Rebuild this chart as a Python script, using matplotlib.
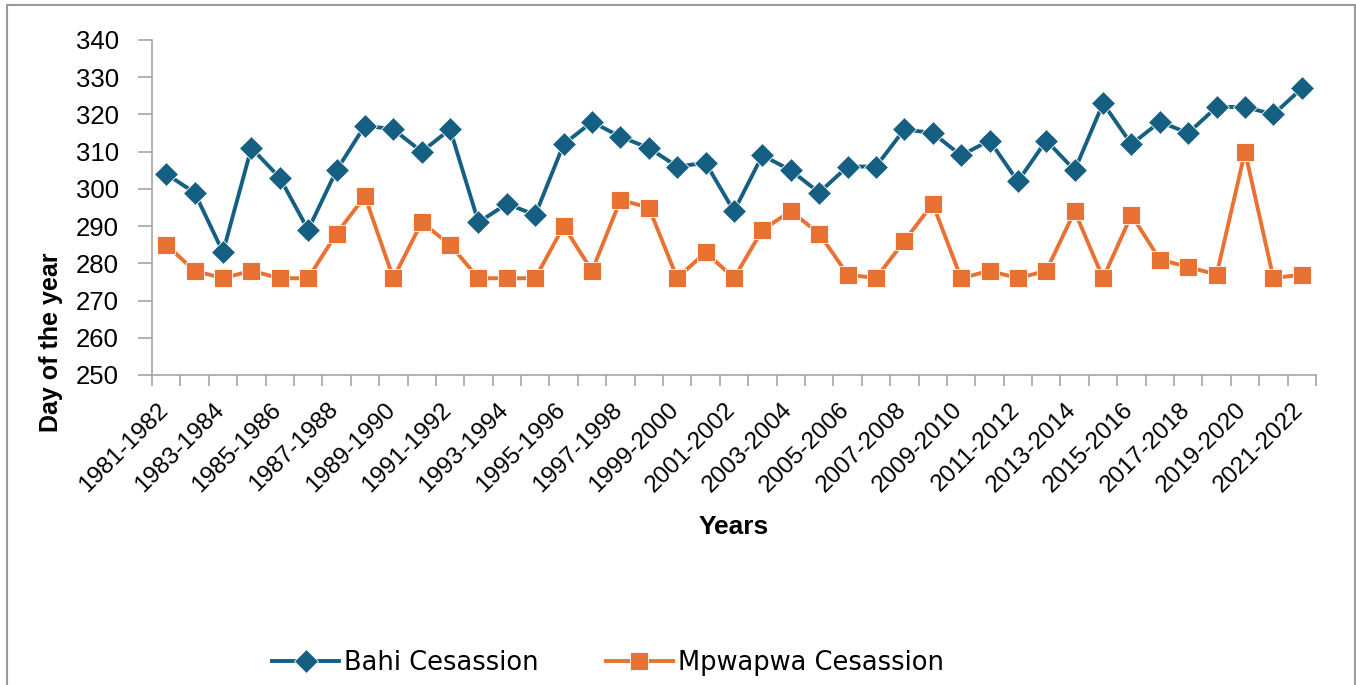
import matplotlib
matplotlib.use("Agg")
import matplotlib.pyplot as plt
import matplotlib.transforms as mtransforms
from matplotlib.patches import Rectangle

# cessation day-of-year per season
temporadas = [f"{a}-{a + 1}" for a in range(1981, 2022)]

bahi = [304, 299, 283, 311, 303, 289, 305, 317, 316, 310, 316, 291, 296, 293,
        312, 318, 314, 311, 306, 307, 294, 309, 305, 299, 306, 306, 316, 315,
        309, 313, 302, 313, 305, 323, 312, 318, 315, 322, 322, 320, 327]

mpwapwa = [285, 278, 276, 278, 276, 276, 288, 298, 276, 291, 285, 276, 276, 276,
           290, 278, 297, 295, 276, 283, 276, 289, 294, 288, 277, 276, 286, 296,
           276, 278, 276, 278, 294, 276, 293, 281, 279, 277, 310, 276, 277]

yticks = [250, 260, 270, 280, 290, 300, 310, 320, 330, 340]

azul = "#156082"
laranja = "#E97132"
cinza = "#A6A6A6"

plt.rcParams["font.family"] = ["Liberation Sans", "DejaVu Sans"]

fig = plt.figure(figsize=(13.56, 6.85), dpi=100)
ax = fig.add_axes([152 / 1356, 1 - 375 / 685, (1316 - 152) / 1356, (375 - 40) / 685])

x = list(range(len(temporadas)))
ax.plot(x, bahi, color=azul, lw=2.8, marker="D", markersize=12.5,
        markeredgecolor="white", markeredgewidth=0.6, label="Bahi Cesassion")
ax.plot(x, mpwapwa, color=laranja, lw=2.8, marker="s", markersize=13,
        markeredgecolor="white", markeredgewidth=0.6, label="Mpwapwa Cesassion")

ax.set_xlim(-0.5, len(temporadas) - 0.5)
ax.set_ylim(250, 340)
ax.set_yticks(yticks)
ax.tick_params(axis="y", labelsize=18.5, length=10, width=1.2, color=cinza, pad=14)

# labels on every other season, tick marks between categories
ax.set_xticks(x[::2])
ax.set_xticklabels(temporadas[::2], rotation=45, ha="right", va="top", fontsize=17.5)
ax.set_xticks([i - 0.5 for i in range(len(temporadas) + 1)], minor=True)
ax.tick_params(axis="x", which="major", length=0, pad=17)
ax.tick_params(axis="x", which="minor", length=8, width=1.2, color=cinza)
desloc = mtransforms.ScaledTranslation(6 / 100, 0, fig.dpi_scale_trans)
for lbl in ax.get_xticklabels():
    lbl.set_transform(lbl.get_transform() + desloc)

for lado in ["top", "right"]:
    ax.spines[lado].set_visible(False)
for lado in ["left", "bottom"]:
    ax.spines[lado].set_color(cinza)
    ax.spines[lado].set_linewidth(1.2)

ax.set_ylabel("Day of the year", fontsize=18, fontweight="bold")
ax.yaxis.set_label_coords(51 / 1356, 0.5, transform=fig.transFigure)
ax.set_xlabel("Years", fontsize=19, fontweight="bold")
ax.xaxis.set_label_coords(734 / 1356, 1 - 527 / 685, transform=fig.transFigure)
ax.xaxis.label.set_va("center")
ax.yaxis.label.set_va("center")

fig.legend(loc="center", bbox_to_anchor=(608 / 1356, 1 - 663 / 685), ncol=2,
           frameon=False, prop={"family": "DejaVu Sans", "size": 18.5},
           handlelength=2.6, handletextpad=0.2, columnspacing=2.6)

# chart border
fig.add_artist(Rectangle((7 / 1356, -0.02), (1355 - 7) / 1356, 1.02 - 5 / 685,
                         transform=fig.transFigure, fill=False, edgecolor="#9A9A9A",
                         lw=1.5))

fig.savefig("out.png", dpi=100)
